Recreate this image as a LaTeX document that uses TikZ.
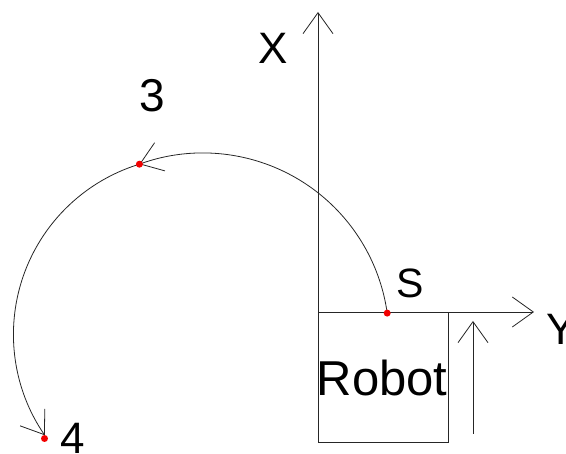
\documentclass[tikz,border=0pt]{standalone}
\usepackage{fontspec}
\setmainfont{Liberation Sans}
\usetikzlibrary{arrows.meta}
\begin{document}
\begin{tikzpicture}[x=1pt,y=1pt,
  line/.style={line width=0.8pt, draw=black!85},
  barb/.style={-{Straight Barb[length=21pt,width=30pt,line width=0.8pt]}},
  dot/.style={circle, fill=red!95!black, inner sep=0pt, minimum size=7pt},
  lbl/.style={inner sep=0pt, font=\fontsize{44}{50}\selectfont}]
\useasboundingbox (0,0) rectangle (566,454);
% robot box
\node[line, draw, minimum width=130pt, minimum height=130pt, inner sep=0pt, anchor=north west] (robot) at (318,142) {};
\node[inner sep=0pt, font=\fontsize{49}{54}\selectfont] (rtext) at (382,76) {Robot};
% axes
\coordinate (Xtip) at (318,442);
\coordinate (Ytip) at (534,142);
\draw[line, barb] (robot.south west) -- (Xtip);
\draw[line, barb] (robot.north west) -- (Ytip);
% small motion arrow
\coordinate (mA) at (473,20);
\coordinate (mB) at (473,133);
\draw[line, barb] (mA) -- (mB);
% points
\coordinate (S) at (387.2,140.9);
\coordinate (P3) at (139.4,289.8);
\draw[line, barb] (S) arc[start angle=8, end angle=110, radius=186];
\draw[line, barb] (P3) arc[start angle=107, end angle=214.5, radius=178];
\node[dot] (dS) at (S) {};
\node[dot] (d3) at (P3) {};
\node[dot] (d4) at (44.5,15.5) {};
% labels
\node[lbl] (lX) at (273,406) {X};
\node[lbl] (lY) at (561,125) {Y};
\node[lbl, font=\fontsize{41}{46}\selectfont] (lS) at (410,171) {S};
\node[lbl, font=\fontsize{46}{52}\selectfont] (l3) at (152,358) {3};
\node[lbl] (l4) at (73,16) {4};
\end{tikzpicture}
\end{document}
